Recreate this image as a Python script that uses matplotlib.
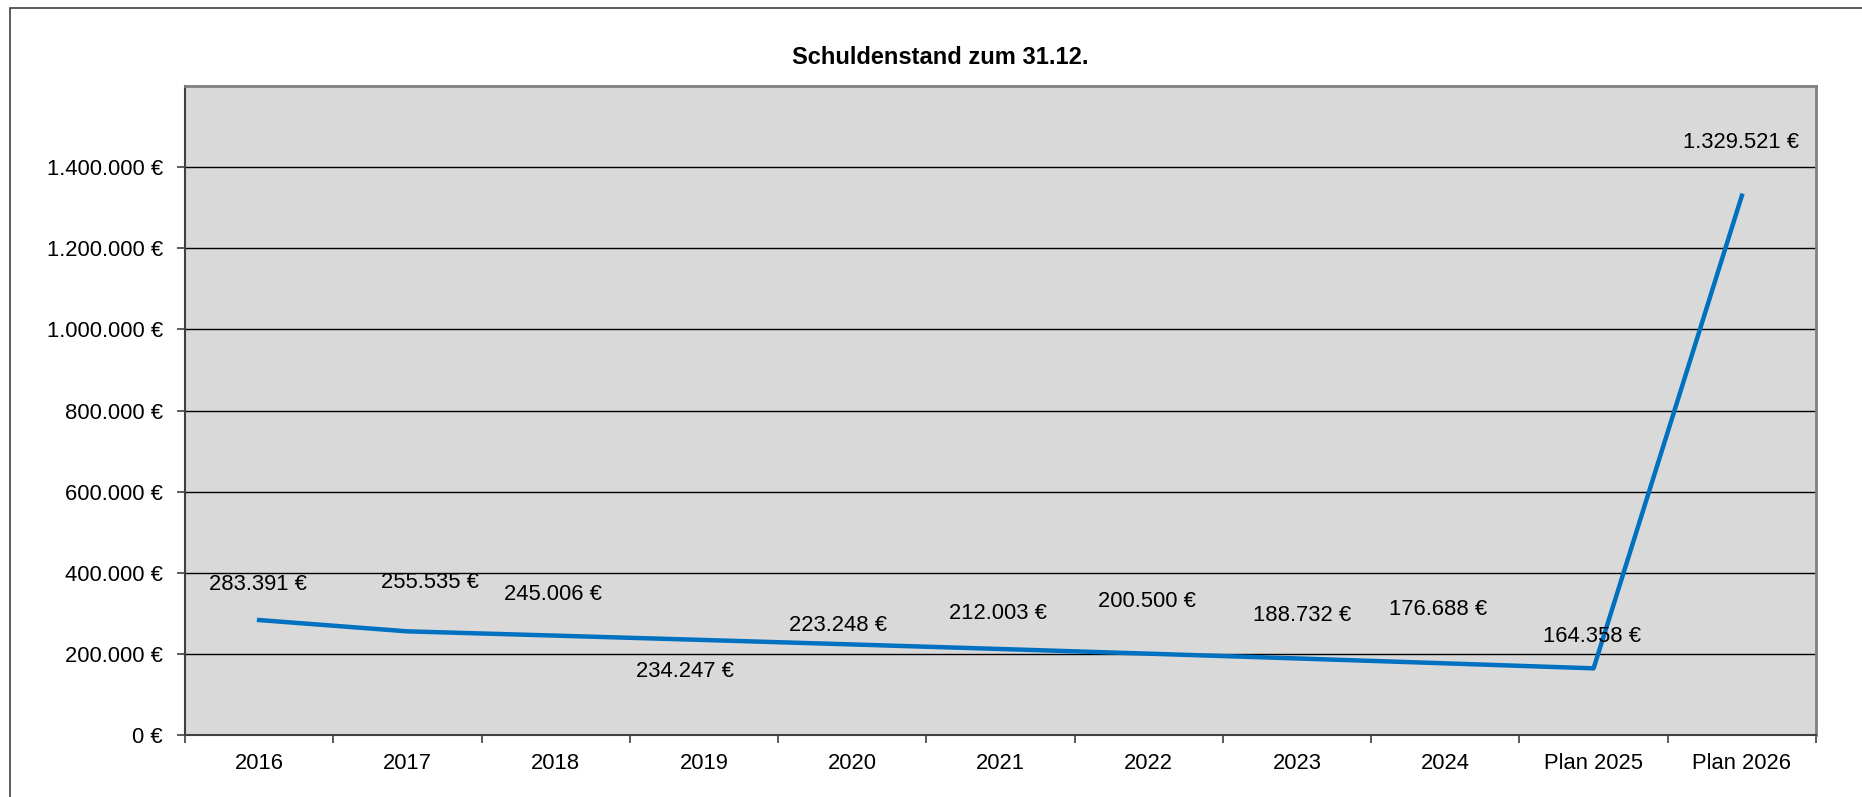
import matplotlib.pyplot as plt
from matplotlib.patches import Rectangle

plt.rcParams['font.family'] = ['Liberation Sans', 'DejaVu Sans']

# DATA

years = ['2016', '2017', '2018', '2019', '2020', '2021', '2022', '2023',
         '2024', 'Plan 2025', 'Plan 2026']
debt = [283391, 255535, 245006, 234247, 223248, 212003, 200500, 188732,
        176688, 164358, 1329521]

# label offsets in pixels (dx, dy) as they sit in the original chart
label_offsets = [(-1, 36), (23, 49), (-3, 41), (-19, -32), (-14, 19),
                 (-3, 36), (-2, 52), (5, 43), (-7, 54), (-2, 32), (-1, 53)]

def euro(v):
    return '{:,.0f} €'.format(v).replace(',', '.')

fig = plt.figure(figsize=(18.62, 7.97), dpi=100)
ax = fig.add_axes([185/1862, 1 - 735/797, (1816 - 185)/1862, (735 - 86)/797])

# outer frame
fig.patches.append(Rectangle((10/1862, -0.1), 1.2, 1 - 8/797 + 0.1,
                             transform=fig.transFigure, fill=False,
                             edgecolor='#404040', linewidth=1.2))

xs = list(range(len(years)))
ax.plot(xs, debt, color='#0070c0', linewidth=3.2, zorder=5)

for x, v, (dx, dy) in zip(xs, debt, label_offsets):
    ax.annotate(euro(v), (x, v), xytext=(dx*0.72, dy*0.72),
                textcoords='offset points', ha='center', va='center',
                fontsize=15.8, color='black', zorder=6)

ax.set_xlim(-0.5, len(years) - 0.5)
ax.set_ylim(0, 1600000)
ax.set_yticks(range(0, 1400001, 200000))
ax.set_yticklabels([euro(v) for v in range(0, 1400001, 200000)])
ax.set_xticks(xs)
ax.set_xticklabels(years)
ax.set_xticks([i - 0.5 for i in range(len(years) + 1)], minor=True)
ax.tick_params(axis='x', which='major', length=0, pad=13, labelsize=15.8)
ax.tick_params(axis='x', which='minor', length=6, width=1.2, color='#404040')
ax.tick_params(axis='y', length=6, width=1.2, color='#404040', pad=10,
               labelsize=15.8)

ax.set_facecolor('#d9d9d9')
ax.grid(axis='y', color='black', linewidth=1.0)
ax.set_axisbelow(True)
for s in ['top', 'right']:
    ax.spines[s].set_color('#808080')
    ax.spines[s].set_linewidth(2)
for s in ['left', 'bottom']:
    ax.spines[s].set_color('#404040')
    ax.spines[s].set_linewidth(1.5)

fig.text(940/1862, 1 - 58/797, 'Schuldenstand zum 31.12.', ha='center',
         va='center', fontsize=17, fontweight='bold')

plt.savefig('out.png', dpi=100)
